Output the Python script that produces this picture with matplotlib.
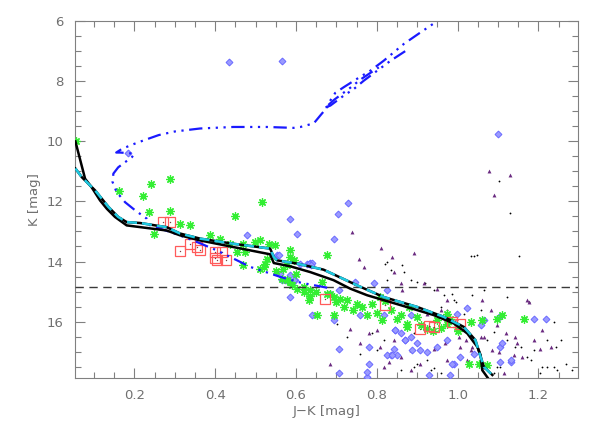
import numpy as np
import matplotlib.pyplot as plt

# isochrone 1 (solid black)
iso1_jk = [0.054, 0.078, 0.094, 0.115, 0.132, 0.152, 0.181, 0.280, 0.313, 0.363, 0.445, 0.536,
           0.545, 0.586, 0.635, 0.693, 0.734, 0.776, 0.859, 0.941, 0.991, 1.024, 1.049, 1.057, 1.061, 1.077]
iso1_k = [10.01, 11.25, 11.53, 11.97, 12.25, 12.52, 12.80, 12.97, 13.13, 13.30, 13.52, 13.76,
          14.05, 14.16, 14.35, 14.62, 14.90, 15.12, 15.45, 15.78, 16.06, 16.39, 16.84, 17.11, 17.61, 17.91]

# isochrone 2 (black with cyan dashes)
iso2_jk = [0.054, 0.070, 0.103, 0.136, 0.160, 0.181, 0.214, 0.280, 0.313, 0.363, 0.445, 0.536,
           0.545, 0.553, 0.603, 0.668, 0.751, 0.817, 0.900, 0.966, 1.015, 1.044, 1.057, 1.065, 1.086]
iso2_k = [10.91, 11.20, 11.64, 12.19, 12.52, 12.69, 12.72, 12.86, 13.07, 13.24, 13.41, 13.57,
          13.85, 13.96, 14.07, 14.27, 14.79, 15.18, 15.51, 15.84, 16.17, 16.61, 17.17, 17.50, 17.77]

# isochrone 3 (blue dash-dot): MS, turnoff, subgiant and red giant branch
iso3_jk = [0.677, 0.611, 0.561, 0.512, 0.487, 0.454, 0.404, 0.346, 0.289, 0.239, 0.231, 0.202,
           0.177, 0.156, 0.146, 0.148, 0.160, 0.177, 0.194, 0.200, 0.185, 0.165, 0.155,
           0.169, 0.194, 0.222, 0.260, 0.300, 0.363, 0.445, 0.528, 0.594, 0.611,
           0.644, 0.660, 0.677, 0.685, 0.697, 0.718, 0.751, 0.784, 0.817, 0.867, 0.908, 0.941]
iso3_k = [14.87, 14.70, 14.51, 14.29, 14.18, 13.96, 13.63, 13.30, 13.02, 12.80, 12.58, 12.30,
          12.03, 11.69, 11.36, 11.08, 10.87, 10.70, 10.53, 10.42, 10.40, 10.38, 10.38,
          10.26, 10.12, 9.98, 9.80, 9.68, 9.58, 9.53, 9.53, 9.56, 9.53,
          9.41, 9.15, 8.88, 8.65, 8.40, 8.21, 7.93, 7.66, 7.33, 6.77, 6.39, 6.09]

# AGB branches (blue dash-dot)
agb_jk = [0.673, 0.685, 0.702, 0.718, 0.743, 0.768, 0.801, 0.834, 0.875]
agb_k = [8.88, 8.82, 8.65, 8.49, 8.27, 7.99, 7.66, 7.33, 6.97]
agb2_jk = [0.680, 0.695, 0.712, 0.735, 0.760, 0.790, 0.805]
agb2_k = [8.80, 8.62, 8.45, 8.22, 7.95, 7.68, 7.55]

k_limit = 14.86

# green asterisks
green_jk = [0.055, 0.163, 0.221, 0.241, 0.287, 0.237, 0.288, 0.450, 0.515, 0.313, 0.338, 0.249,
            0.388, 0.412, 0.437, 0.470, 0.454, 0.474, 0.470, 0.499, 0.512, 0.532, 0.549, 0.528,
            0.512, 0.524, 0.569, 0.578, 0.590, 0.586, 0.594, 0.586, 0.578, 0.520, 0.565, 0.586,
            0.602, 0.619, 0.664, 0.677, 0.685, 0.635, 0.710, 0.635, 0.631, 0.652, 0.693, 0.693,
            0.726, 0.751, 0.764, 0.776, 0.788, 0.809, 0.813, 0.834, 0.859, 0.875, 0.900, 0.925,
            0.974, 0.999, 1.032, 1.061, 1.098, 1.110, 1.164, 1.028, 1.053, 1.073, 0.974, 0.949,
            0.875, 0.677, 0.620, 0.650, 0.700, 0.720, 0.740, 0.800, 0.820, 0.850, 0.880, 0.910,
            0.940, 0.960, 0.980, 1.000, 0.550, 0.600]
green_k = [10.00, 11.67, 11.83, 11.44, 11.26, 12.37, 12.33, 12.49, 12.03, 12.74, 12.78, 13.07,
           13.11, 13.24, 13.41, 13.41, 13.68, 13.68, 14.13, 13.35, 13.30, 13.41, 13.45, 13.90,
           14.24, 14.07, 14.24, 14.62, 14.79, 13.63, 13.96, 13.85, 14.13, 14.18, 14.57, 14.68,
           14.90, 15.01, 14.68, 13.79, 15.07, 15.15, 15.23, 14.96, 15.29, 15.78, 15.78, 15.18,
           15.29, 15.40, 15.51, 15.78, 15.40, 15.18, 15.95, 15.62, 15.78, 16.17, 15.84, 16.23,
           15.73, 16.17, 16.00, 15.95, 15.90, 15.78, 15.90, 17.39, 17.39, 17.44, 16.06, 15.95,
           16.06, 15.07, 14.85, 15.00, 15.35, 15.50, 15.60, 15.70, 15.30, 15.90, 15.50, 16.10,
           16.30, 16.20, 15.90, 16.30, 14.30, 14.40]

# red squares
red_jk = [0.272, 0.287, 0.313, 0.338, 0.355, 0.363, 0.400, 0.400, 0.404, 0.427, 0.417,
          0.671, 0.821, 0.908, 0.929, 0.941, 0.987, 1.005]
red_k = [12.69, 12.69, 13.65, 13.41, 13.52, 13.63, 13.68, 13.87, 13.96, 13.96, 13.68,
         15.23, 15.45, 16.23, 16.15, 16.19, 16.00, 16.08]

# blue diamonds
blue_jk = [0.435, 0.565, 0.586, 1.100, 0.729, 0.704, 0.184, 0.479, 0.602, 0.553, 0.561, 0.586,
           0.574, 0.586, 0.598, 0.693, 0.635, 0.747, 0.792, 0.640, 0.693, 0.759, 0.817, 0.846,
           0.859, 0.884, 0.884, 0.834, 0.850, 0.908, 0.925, 0.949, 0.974, 0.990, 1.024, 1.057,
           1.106, 1.106, 1.131, 1.102, 1.189, 1.218, 0.780, 0.706, 0.776, 0.982, 0.929, 0.900,
           0.871, 0.627, 0.640,
           0.824, 0.846, 0.871, 0.886, 0.987, 1.065, 1.110, 1.131, 0.842, 0.826, 0.838, 1.007,
           1.040, 0.999, 0.557, 0.611, 0.631, 0.637, 0.565, 0.578, 0.590, 0.594, 0.685, 0.706,
           0.780, 0.706, 0.776]
blue_k = [7.36, 7.35, 12.60, 9.76, 12.07, 12.42, 10.40, 13.13, 13.07, 13.79, 14.42, 14.46,
          14.62, 15.18, 14.62, 13.24, 14.05, 14.68, 14.73, 15.78, 15.95, 15.78, 15.78, 16.28,
          16.39, 15.78, 16.50, 17.11, 17.11, 16.95, 17.00, 16.84, 16.61, 17.39, 15.56, 16.12,
          16.84, 17.33, 17.33, 15.84, 15.90, 15.90, 17.39, 17.72, 17.83, 17.77, 17.77, 16.72,
          16.61, 14.07, 14.05,
          14.96, 16.28, 16.61, 16.95, 17.39, 15.95, 16.72, 17.28, 16.89, 17.11, 17.11, 17.17,
          17.06, 15.73, 13.79, 14.07, 14.07, 14.13, 14.62, 14.62, 14.73, 14.60, 15.07, 14.96,
          16.84, 16.89, 17.66]

# purple triangles
tri_jk = [1.077, 1.129, 1.090, 0.739, 0.811, 0.838, 0.891, 0.755, 0.768, 0.842, 0.863, 0.949,
          0.685, 0.780, 1.061, 1.102, 1.176, 1.189, 1.205, 1.148, 1.139, 1.119, 1.098, 1.065,
          1.036, 1.007, 1.003, 0.974, 0.941, 0.908, 0.884, 0.859, 0.817, 0.842, 0.925, 0.958,
          0.974, 0.734, 0.801, 0.759, 0.809, 0.884, 1.024, 1.065, 1.114, 1.082, 1.143,
          0.859, 0.916, 1.172, 1.210, 1.230, 1.160, 1.032, 1.020, 1.057, 1.086, 0.970, 0.830]
tri_k = [11.00, 11.12, 11.80, 13.02, 13.55, 13.85, 13.72, 13.90, 14.18, 14.35, 14.96, 14.90,
         17.39, 16.39, 15.29, 17.00, 15.34, 16.61, 16.89, 16.72, 17.11, 16.39, 16.12, 16.50,
         16.84, 16.84, 16.50, 17.28, 16.89, 17.39, 16.95, 17.17, 17.50, 16.61, 15.73, 15.62,
         15.29, 16.23, 16.28, 16.72, 16.84, 17.61, 17.28, 17.50, 17.72, 15.62, 16.50,
         14.73, 14.73, 15.29, 16.28, 16.84, 17.17, 16.95, 16.61, 16.50, 16.95, 16.72, 17.33]

# black dots
dot_jk = [1.102, 1.129, 1.032, 1.040, 1.152, 0.826, 0.867, 0.826, 0.884, 0.920, 0.941, 0.966,
          0.990, 0.958, 1.036, 1.057, 1.028, 1.073, 1.123, 1.156, 1.172, 1.222, 1.243, 1.222,
          1.247, 1.205, 1.181, 1.106, 1.090, 0.958, 0.933, 0.900, 0.859, 0.826, 0.801, 0.759,
          0.726, 0.702, 0.974, 0.999, 0.925, 0.891, 0.817, 0.788, 1.065, 1.015,
          0.821, 0.834, 0.863, 1.048, 0.900, 0.987, 0.995, 1.123, 1.176, 1.238, 1.255, 1.189,
          1.143, 1.210, 1.238, 1.267, 1.284, 1.098, 0.941, 0.891, 0.916, 0.958, 1.090]
dot_k = [11.31, 12.38, 13.83, 13.83, 13.83, 14.02, 14.35, 14.60, 14.62, 14.73, 14.96, 15.12,
         15.29, 15.51, 15.12, 15.62, 16.39, 16.61, 16.61, 16.84, 17.17, 16.61, 16.84, 17.50,
         17.61, 17.72, 17.28, 17.50, 17.72, 17.72, 17.61, 17.39, 17.61, 17.17, 16.95, 17.06,
         16.50, 16.06, 15.62, 15.95, 17.28, 16.39, 16.61, 16.39, 14.96, 15.73,
         14.07, 14.29, 14.13, 13.79, 14.68, 15.07, 15.34, 15.18, 15.34, 16.01, 16.61, 16.95,
         16.84, 17.50, 17.50, 17.39, 17.61, 17.50, 17.55, 17.50, 16.28, 16.23, 16.34]

gray = '#808080'
plt.rcParams['font.family'] = 'DejaVu Sans'

fig = plt.figure(figsize=(5.98, 4.28), dpi=100)
ax = fig.add_axes([0.1254, 0.1168, 0.8412, 0.8348])

ax.plot(dot_jk, dot_k, 'o', color='black', ms=1.3, mew=0, zorder=2)
ax.plot(tri_jk, tri_k, '^', color='#6a2a80', ms=2.8, mew=0, zorder=2)
ax.plot(blue_jk, blue_k, 'D', mfc='#9a9aff', mec='#6a6aff', ms=3.5, mew=0.7, zorder=3)
ax.plot(green_jk, green_k, marker=(8, 2, 0), ls='none', color='#33ee33', ms=6.0, mew=0.9, zorder=3)
ax.plot(red_jk, red_k, 's', mfc='none', mec='#ff5a5a', ms=7, mew=0.9, zorder=4)
ax.plot(red_jk, red_k, 'o', color='#7a4040', ms=1.0, mew=0, zorder=4)

blue_ls = (0, (6, 2.5, 1, 2.5, 1, 2.5, 1, 2.5))
ax.plot(iso3_jk, iso3_k, color='#1a1aff', lw=1.6, ls=blue_ls, zorder=5)
ax.plot(agb_jk, agb_k, color='#1a1aff', lw=1.6, ls=blue_ls, zorder=5)
ax.plot(agb2_jk, agb2_k, color='#1a1aff', lw=1.6, ls=blue_ls, zorder=5)

ax.plot(iso1_jk, iso1_k, color='black', lw=1.8, zorder=6)
ax.plot(iso2_jk, iso2_k, color='black', lw=1.8, zorder=6)
ax.plot(iso2_jk, iso2_k, color='#1ec8e0', lw=1.8, ls=(0, (4, 2)), zorder=7)

ax.axhline(k_limit, color='#3a3a3a', lw=1.0, ls=(0, (6, 4)), zorder=4)

ax.set_xlim(0.053, 1.298)
ax.set_ylim(17.87, 6)
ax.set_xticks([0.2, 0.4, 0.6, 0.8, 1.0, 1.2])
ax.set_xticks(np.arange(0.1, 1.3, 0.05), minor=True)
ax.set_yticks([6, 8, 10, 12, 14, 16])
ax.set_yticks(np.arange(6, 18, 0.5), minor=True)
ax.tick_params(which='both', direction='in', top=True, right=True, colors=gray,
               labelcolor='#707070', labelsize=9.5, width=0.8)
ax.tick_params(which='major', length=7, pad=8)
ax.tick_params(which='minor', length=4)
for s in ax.spines.values():
    s.set_color(gray)
    s.set_linewidth(0.8)

ax.set_xlabel('J\u2212K [mag]', color='#707070', fontsize=9.5, labelpad=2)
ax.set_ylabel('K [mag]', color='#707070', fontsize=9.5, labelpad=4)

fig.savefig('out.png', dpi=100)
